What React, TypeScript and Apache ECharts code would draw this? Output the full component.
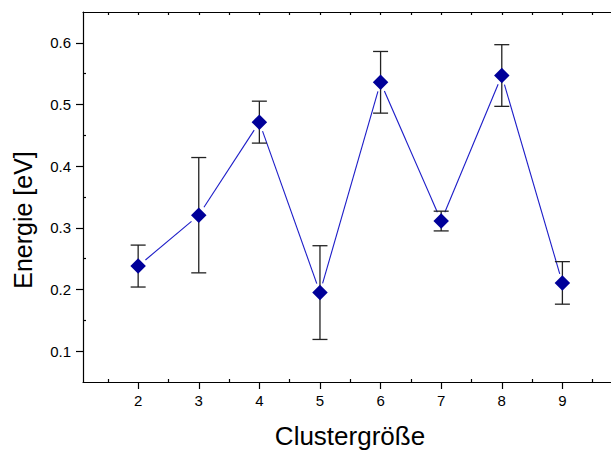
import React, { useEffect, useRef } from "react";
import * as echarts from "echarts";

const clusterSizes = [2, 3, 4, 5, 6, 7, 8, 9];
const energies = [0.238, 0.3205, 0.4714, 0.195, 0.536, 0.311, 0.547, 0.2107];
const errors = [0.034, 0.0935, 0.034, 0.076, 0.05, 0.016, 0.05, 0.0345];

const xTicks = [2, 3, 4, 5, 6, 7, 8, 9];
const xMinorTicks = [1.5, 2.5, 3.5, 4.5, 5.5, 6.5, 7.5, 8.5, 9.5];
const xTopTicks = [1.5, 2, 2.5, 3, 3.5, 4, 4.5, 5, 5.5, 6, 6.5, 7, 7.5, 8, 8.5, 9, 9.5];
const yTicks = [0.1, 0.2, 0.3, 0.4, 0.5, 0.6];
const yMinorTicks = [0.15, 0.25, 0.35, 0.45, 0.55];

const FONT = "'Liberation Sans', Arial, Helvetica, sans-serif";

export default function App() {
  const ref = useRef<HTMLDivElement>(null);

  useEffect(() => {
    if (!ref.current) return;
    const chart = echarts.init(ref.current, null, { renderer: "svg" });

    const segments = clusterSizes.slice(0, -1).map((x, i) => [
      x,
      energies[i],
      clusterSizes[i + 1],
      energies[i + 1],
    ]);
    const errData = clusterSizes.map((x, i) => [x, energies[i] - errors[i], energies[i] + errors[i]]);
    const points = clusterSizes.map((x, i) => [x, energies[i]]);

    const axisLine = { show: true, onZero: false, lineStyle: { color: "#000", width: 1.2 } };
    const noLine = { show: false, onZero: false };
    const tickStyle = { color: "#000", width: 1.2 };
    const X_MIN = 1.09;
    const X_MAX = 10;

    chart.setOption({
      animation: false,
      backgroundColor: "#fff",
      grid: { left: 83, right: 0, top: 12, bottom: 69 },
      graphic: [
        {
          type: "text",
          x: 23,
          y: 220,
          rotation: Math.PI / 2,
          style: {
            text: "Energie [eV]",
            fontSize: 25,
            fontFamily: FONT,
            fill: "#000",
            align: "center",
            verticalAlign: "middle",
          },
        },
        {
          type: "text",
          x: 350,
          y: 436,
          style: {
            text: "Clustergröße",
            fontSize: 26,
            fontFamily: FONT,
            fill: "#000",
            align: "center",
            verticalAlign: "middle",
          },
        },
      ],
      xAxis: [
        {
          type: "value",
          position: "bottom",
          min: X_MIN,
          max: X_MAX,
          axisLine,
          splitLine: { show: false },
          axisTick: { show: true, customValues: xTicks, length: 7, lineStyle: tickStyle },
          axisLabel: {
            customValues: xTicks,
            color: "#000",
            fontSize: 15,
            fontFamily: FONT,
            margin: 11,
          },
        },
        {
          type: "value",
          position: "bottom",
          min: X_MIN,
          max: X_MAX,
          axisLine: noLine,
          splitLine: { show: false },
          axisTick: { show: true, inside: true, customValues: xMinorTicks, length: 3, lineStyle: tickStyle },
          axisLabel: { show: false },
        },
        {
          type: "value",
          position: "top",
          min: X_MIN,
          max: X_MAX,
          axisLine,
          splitLine: { show: false },
          axisTick: { show: true, inside: true, customValues: xTopTicks, length: 3, lineStyle: tickStyle },
          axisLabel: { show: false },
        },
      ],
      yAxis: [
        {
          type: "value",
          position: "left",
          min: 0.05,
          max: 0.65,
          axisLine,
          splitLine: { show: false },
          axisTick: { show: true, customValues: yTicks, length: 7, lineStyle: tickStyle },
          axisLabel: {
            customValues: yTicks,
            formatter: (v: number) => v.toFixed(1),
            color: "#000",
            fontSize: 15,
            fontFamily: FONT,
            margin: 12,
          },
        },
        {
          type: "value",
          position: "left",
          offset: 0,
          min: 0.05,
          max: 0.65,
          axisLine: noLine,
          splitLine: { show: false },
          axisTick: { show: true, inside: true, customValues: yMinorTicks, length: 3, lineStyle: tickStyle },
          axisLabel: { show: false },
        },
      ],
      series: [
        {
          type: "custom",
          xAxisIndex: 0,
          yAxisIndex: 0,
          data: segments,
          encode: { x: [0, 2], y: [1, 3] },
          z: 2,
          renderItem: (params: any, api: any) => {
            const p1 = api.coord([api.value(0), api.value(1)]);
            const p2 = api.coord([api.value(2), api.value(3)]);
            const dx = p2[0] - p1[0];
            const dy = p2[1] - p1[1];
            const len = Math.sqrt(dx * dx + dy * dy);
            const gap = 9.5;
            const ux = dx / len;
            const uy = dy / len;
            return {
              type: "line",
              shape: {
                x1: p1[0] + ux * gap,
                y1: p1[1] + uy * gap,
                x2: p2[0] - ux * gap,
                y2: p2[1] - uy * gap,
              },
              style: { stroke: "#1c1cc8", lineWidth: 1.1 },
            };
          },
        },
        {
          type: "custom",
          xAxisIndex: 0,
          yAxisIndex: 0,
          data: errData,
          encode: { x: 0, y: [1, 2] },
          z: 3,
          renderItem: (params: any, api: any) => {
            const lo = api.coord([api.value(0), api.value(1)]);
            const hi = api.coord([api.value(0), api.value(2)]);
            const hw = 7.5;
            const style = { stroke: "#222", lineWidth: 1.3 };
            return {
              type: "group",
              children: [
                { type: "line", shape: { x1: lo[0], y1: lo[1], x2: hi[0], y2: hi[1] }, style },
                { type: "line", shape: { x1: lo[0] - hw, y1: lo[1], x2: lo[0] + hw, y2: lo[1] }, style },
                { type: "line", shape: { x1: hi[0] - hw, y1: hi[1], x2: hi[0] + hw, y2: hi[1] }, style },
              ],
            };
          },
        },
        {
          type: "scatter",
          xAxisIndex: 0,
          yAxisIndex: 0,
          data: points,
          symbol: "diamond",
          symbolSize: [15.5, 15.5],
          itemStyle: { color: "#000099", opacity: 1 },
          z: 4,
        },
      ],
    });

    return () => chart.dispose();
  }, []);

  return (
    <div
      style={{
        position: "absolute",
        left: 0,
        top: 0,
        width: 611,
        height: 451,
        overflow: "hidden",
        background: "#fff",
      }}
    >
      <div ref={ref} style={{ width: 623, height: 451 }} />
    </div>
  );
}
